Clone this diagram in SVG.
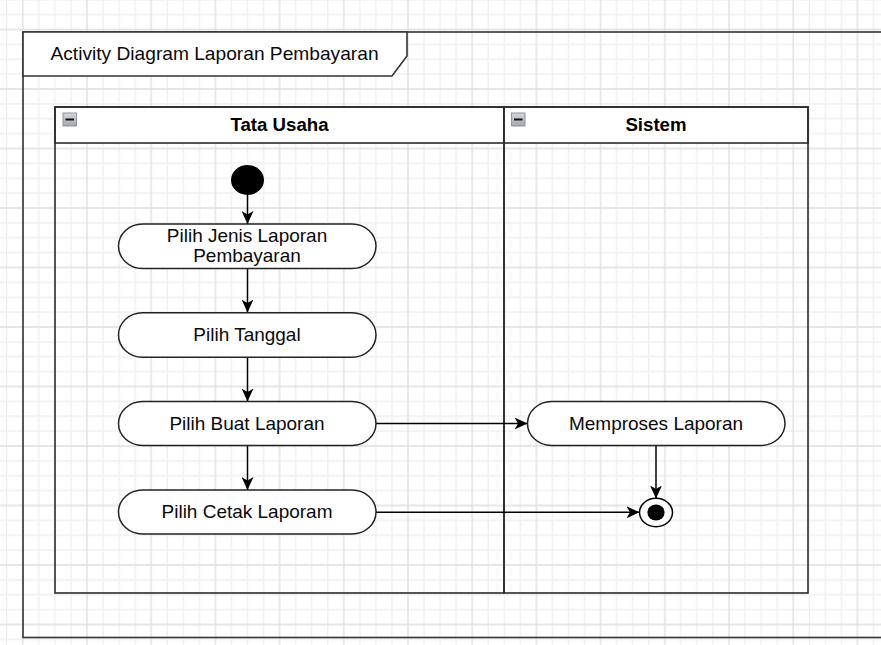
<svg xmlns="http://www.w3.org/2000/svg" width="881" height="645" viewBox="0 0 881 645">
  <style>
    .frm { fill: none; stroke: #333; stroke-width: 1.6; }
    .lane { fill: none; stroke: #2b2b2b; stroke-width: 1.6; }
    .hdr { fill: #fff; stroke: #2b2b2b; stroke-width: 1.6; }
    .act { fill: #fff; stroke: #222; stroke-width: 1.5; }
    .lbl { font-family: "Liberation Sans", Arial, Helvetica, sans-serif; font-size: 17.6px; fill: #0a0a0a; text-anchor: middle; }
    .bold { font-weight: bold; fill: #000; }
    .con { fill: none; stroke: #000; stroke-width: 1.5; marker-end: url(#arrow); }
    .icon { fill: url(#iconGrad); stroke: #8f949c; stroke-width: 1; }
  </style>
  <defs>
    <pattern id="grid" patternUnits="userSpaceOnUse" x="22.8" y="29.5" width="64.2" height="59.5">
      <path d="M16.05 0V59.5M32.1 0V59.5M48.15 0V59.5M0 14.875H64.2M0 29.75H64.2M0 44.625H64.2" stroke="#f0f0f0" stroke-width="1.4" fill="none"/>
      <path d="M0 0V59.5M64.2 0V59.5M0 0H64.2M0 59.5H64.2" stroke="#dedede" stroke-width="1.3" fill="none"/>
    </pattern>
    <linearGradient id="iconGrad" x1="0" y1="0" x2="0" y2="1">
      <stop offset="0" stop-color="#d5d8dd"/>
      <stop offset="1" stop-color="#a3a7ae"/>
    </linearGradient>
    <marker id="arrow" markerUnits="userSpaceOnUse" viewBox="0 0 13 12" markerWidth="13" markerHeight="12" refX="13" refY="6" orient="auto">
      <path d="M13 6L0 0L3.5 6L0 12Z" fill="#000"/>
    </marker>
  </defs>

  <rect x="0" y="0" width="881" height="645" fill="#fff"/>
  <rect x="0" y="0" width="881" height="645" fill="url(#grid)"/>

  <g id="frame">
    <rect class="frm" x="23" y="32" width="880" height="605.5"/>
    <path d="M23 32H407V56L392 76H23Z" fill="#fff" stroke="#333" stroke-width="1.6"/>
    <text class="lbl" transform="translate(214.5,60) scale(1.09,1)">Activity Diagram Laporan Pembayaran</text>
  </g>

  <g id="lane-tata-usaha">
    <rect class="hdr" x="55" y="107" width="449" height="36"/>
    <rect class="lane" x="55" y="107" width="449" height="486"/>
    <rect class="icon" x="63" y="113" width="13.5" height="13"/>
    <path d="M65.5 119.5H74" stroke="#111" stroke-width="2"/>
    <text class="lbl bold" transform="translate(279.5,131) scale(1.06,1)">Tata Usaha</text>
  </g>

  <g id="lane-sistem">
    <rect class="hdr" x="504" y="107" width="304" height="36"/>
    <rect class="lane" x="504" y="107" width="304" height="486"/>
    <rect class="icon" x="511.5" y="113" width="13.5" height="13"/>
    <path d="M514 119.5H522.5" stroke="#111" stroke-width="2"/>
    <text class="lbl bold" transform="translate(656,131) scale(1.06,1)">Sistem</text>
  </g>

  <g id="connectors">
    <path class="con" d="M247.5 195V224"/>
    <path class="con" d="M247.5 268.5V312.5"/>
    <path class="con" d="M247.5 357.5V401.5"/>
    <path class="con" d="M247.5 445.5V490"/>
    <path class="con" d="M376 423.5H527.5"/>
    <path class="con" d="M656 445.5V498.5"/>
    <path class="con" d="M376 512.3H639.5"/>
  </g>

  <g id="start">
    <ellipse cx="247.5" cy="180" rx="16.5" ry="15" fill="#000"/>
  </g>

  <g id="act1">
    <rect class="act" x="118.5" y="224" width="257.5" height="44.5" rx="24" ry="22.25"/>
    <text class="lbl" transform="translate(247,242) scale(1.079,1)">Pilih Jenis Laporan</text>
    <text class="lbl" transform="translate(247,262) scale(1.079,1)">Pembayaran</text>
  </g>

  <g id="act2">
    <rect class="act" x="118.5" y="312.7" width="257.5" height="44.6" rx="24" ry="22.3"/>
    <text class="lbl" transform="translate(247,340.5) scale(1.079,1)">Pilih Tanggal</text>
  </g>

  <g id="act3">
    <rect class="act" x="118.5" y="401.5" width="257.5" height="44" rx="24" ry="22"/>
    <text class="lbl" transform="translate(247,429.5) scale(1.079,1)">Pilih Buat Laporan</text>
  </g>

  <g id="act4">
    <rect class="act" x="118.5" y="490" width="257.5" height="44" rx="24" ry="22"/>
    <text class="lbl" transform="translate(247,518) scale(1.079,1)">Pilih Cetak Laporam</text>
  </g>

  <g id="act5">
    <rect class="act" x="527.5" y="401.5" width="257.5" height="44" rx="24" ry="22"/>
    <text class="lbl" transform="translate(656,429.5) scale(1.079,1)">Memproses Laporan</text>
  </g>

  <g id="end">
    <ellipse cx="656" cy="512.5" rx="16.5" ry="14.2" fill="#fff" stroke="#000" stroke-width="1.5"/>
    <ellipse cx="656" cy="512.5" rx="8.6" ry="8" fill="#000"/>
  </g>
</svg>
